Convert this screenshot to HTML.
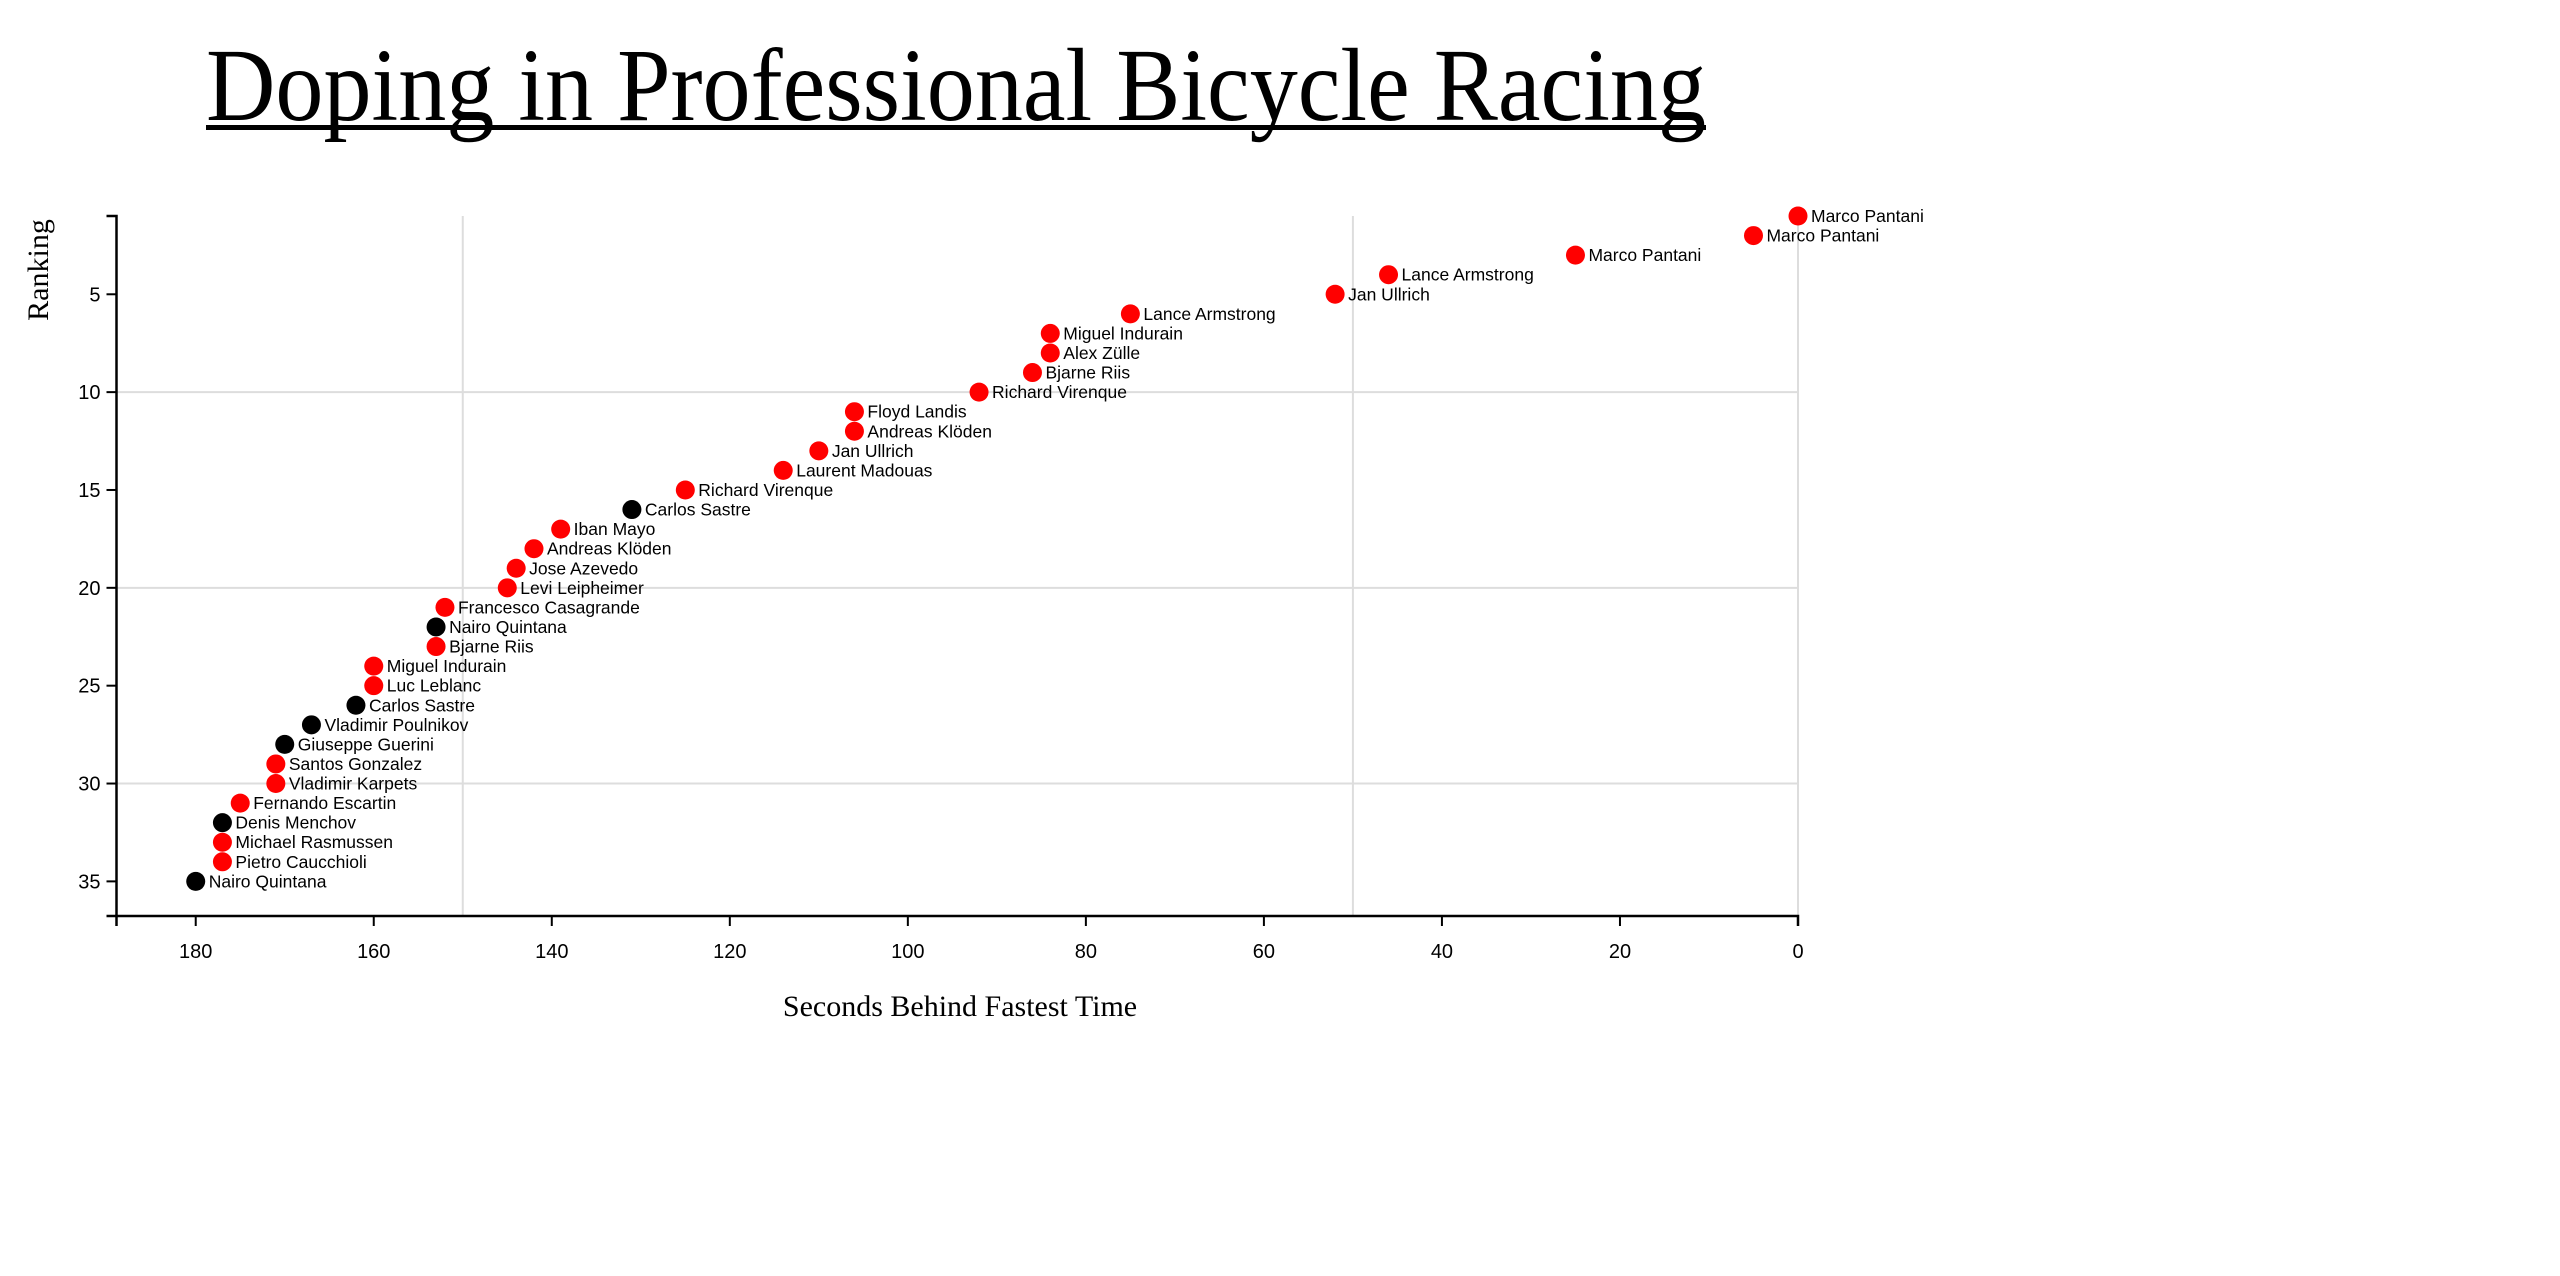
<!DOCTYPE html>
<html><head><meta charset="utf-8"><style>
html,body{margin:0;padding:0;background:#fff;width:2560px;height:1276px;overflow:hidden}
svg{display:block}
</style></head><body>
<svg id="chart" width="2560" height="1276" xmlns="http://www.w3.org/2000/svg">
<text x="206" y="120" font-family="Liberation Serif, serif" font-size="104" textLength="1500" lengthAdjust="spacingAndGlyphs">Doping in Professional Bicycle Racing</text>
<rect x="206" y="125" width="1500" height="5" fill="#000"/>
<g id="grid"></g>
<g id="axes"></g>
<g id="marks"></g>
<text x="48" y="270" transform="rotate(-90 48 270)" text-anchor="middle" font-family="Liberation Serif, serif" font-size="30">Ranking</text>
<text x="960" y="1016" text-anchor="middle" font-family="Liberation Serif, serif" font-size="30">Seconds Behind Fastest Time</text>
</svg>
<script>
const seconds=[0,5,25,46,52,75,84,84,86,92,106,106,110,114,125,131,139,142,144,145,152,153,153,160,160,162,167,170,171,171,175,177,177,177,180];
const ranks=[1,2,3,4,5,6,7,8,9,10,11,12,13,14,15,16,17,18,19,20,21,22,23,24,25,26,27,28,29,30,31,32,33,34,35];
const names=["Marco Pantani","Marco Pantani","Marco Pantani","Lance Armstrong","Jan Ullrich","Lance Armstrong","Miguel Indurain","Alex Zülle","Bjarne Riis","Richard Virenque","Floyd Landis","Andreas Klöden","Jan Ullrich","Laurent Madouas","Richard Virenque","Carlos Sastre","Iban Mayo","Andreas Klöden","Jose Azevedo","Levi Leipheimer","Francesco Casagrande","Nairo Quintana","Bjarne Riis","Miguel Indurain","Luc Leblanc","Carlos Sastre","Vladimir Poulnikov","Giuseppe Guerini","Santos Gonzalez","Vladimir Karpets","Fernando Escartin","Denis Menchov","Michael Rasmussen","Pietro Caucchioli","Nairo Quintana"];
const doping=[1,1,1,1,1,1,1,1,1,1,1,1,1,1,1,0,1,1,1,1,1,0,1,1,1,0,0,0,1,1,1,0,1,1,0];
const xTicks=[180,160,140,120,100,80,60,40,20,0];
const yTicks=[5,10,15,20,25,30,35];
const xGrid=[150,50,0];
const yGrid=[10,20,30];

const NS="http://www.w3.org/2000/svg";
const X0=116.5,X1=1798,Y0=216,Y1=916;
const xMax=188.9;
function x(v){return X1-(v/xMax)*(X1-X0);}
function y(r){return Y0+(r-1)*19.57;}
function mk(tag,attrs,parent){const e=document.createElementNS(NS,tag);for(const k in attrs)e.setAttribute(k,attrs[k]);parent.appendChild(e);return e;}
const grid=document.getElementById('grid'),axes=document.getElementById('axes'),marks=document.getElementById('marks');
xGrid.forEach(v=>{const l=mk('line',{x1:x(v),x2:x(v),y1:Y0,y2:Y1,stroke:'#ddd','stroke-width':2},grid);

});
yGrid.forEach(v=>{const l=mk('line',{x1:X0,x2:X1,y1:y(v),y2:y(v),stroke:'#ddd','stroke-width':2},grid);

});
const ya=mk('path',{d:`M${X0-10},${Y0}H${X0}V${Y1}H${X0-10}`,fill:'none',stroke:'#000','stroke-width':2.5},axes);


const xa=mk('path',{d:`M${X0},${Y1+10}V${Y1}H${X1}V${Y1+10}`,fill:'none',stroke:'#000','stroke-width':2.5},axes);


xTicks.forEach(v=>{mk('line',{x1:x(v),x2:x(v),y1:Y1,y2:Y1+10,stroke:'#000','stroke-width':2},axes);
const t=mk('text',{x:x(v),y:Y1+42,'text-anchor':'middle','font-family':'Liberation Sans, sans-serif','font-size':20},axes);t.textContent=v;

});
yTicks.forEach(v=>{mk('line',{x1:X0-10,x2:X0,y1:y(v),y2:y(v),stroke:'#000','stroke-width':2},axes);
const t=mk('text',{x:X0-16,y:y(v)+7,'text-anchor':'end','font-family':'Liberation Sans, sans-serif','font-size':20},axes);t.textContent=v;

});
seconds.forEach((s,i)=>{
const c=mk('circle',{cx:x(s),cy:y(ranks[i]),r:9.5,fill:doping[i]?'#ff0000':'#000'},marks);


const t=mk('text',{x:x(s)+13,y:y(ranks[i])+6,'font-family':'Liberation Sans, sans-serif','font-size':17.5},marks);t.textContent=names[i];


});
</script>
</body></html>
